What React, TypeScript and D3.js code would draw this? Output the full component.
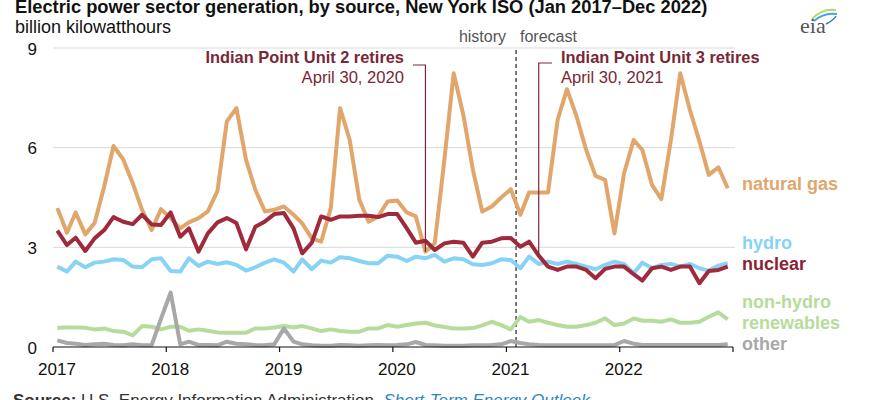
import React from 'react';
import * as d3 from 'd3';

// monthly generation, billion kWh, Jan 2017 - Dec 2022
const naturalGas = [
  4.18, 3.44, 4.05, 3.39, 3.73, 4.83, 6.05, 5.65, 4.93, 4.13, 3.52, 4.15,
  3.88, 3.57, 3.75, 3.88, 4.08, 4.70, 6.79, 7.19, 5.63, 4.73, 4.08, 4.13,
  4.23, 3.98, 3.72, 3.27, 3.17, 4.18, 7.19, 6.23, 4.43, 3.77, 3.93, 4.38,
  4.41, 4.05, 3.93, 2.87, 3.12, 5.63, 8.24, 6.99, 5.33, 4.08, 4.23, 4.50,
  4.75, 3.98, 4.65, 4.65, 4.65, 6.84, 7.76, 6.94, 5.93, 5.15, 5.03, 3.42,
  5.23, 6.23, 5.93, 4.88, 4.45, 6.23, 8.24, 7.14, 6.18, 5.18, 5.41, 4.78,
];
const nuclear = [
  3.50, 3.07, 3.29, 2.89, 3.27, 3.52, 3.91, 3.77, 3.70, 3.98, 3.69, 3.67,
  4.05, 3.32, 3.57, 2.87, 3.42, 3.75, 3.88, 3.73, 2.94, 3.62, 3.78, 4.00,
  4.03, 3.57, 2.82, 3.14, 3.93, 3.83, 3.93, 3.93, 3.95, 3.95, 3.91, 4.00,
  4.00, 3.57, 3.14, 3.20, 2.92, 3.12, 3.17, 3.14, 2.72, 3.14, 3.17, 3.27,
  3.28, 3.02, 3.17, 2.75, 2.42, 2.32, 2.42, 2.42, 2.32, 2.07, 2.35, 2.42,
  2.42, 2.19, 2.00, 2.37, 2.42, 2.32, 2.42, 2.42, 1.92, 2.29, 2.32, 2.42,
];
const hydro = [
  2.42, 2.27, 2.57, 2.40, 2.54, 2.57, 2.64, 2.62, 2.42, 2.40, 2.64, 2.67,
  2.29, 2.27, 2.67, 2.44, 2.57, 2.50, 2.55, 2.47, 2.30, 2.40, 2.54, 2.64,
  2.54, 2.27, 2.64, 2.34, 2.60, 2.54, 2.70, 2.67, 2.59, 2.52, 2.52, 2.75,
  2.72, 2.59, 2.72, 2.67, 2.77, 2.57, 2.67, 2.64, 2.49, 2.47, 2.52, 2.64,
  2.62, 2.37, 2.72, 2.50, 2.57, 2.50, 2.57, 2.50, 2.42, 2.34, 2.47, 2.57,
  2.50, 2.22, 2.54, 2.37, 2.47, 2.50, 2.42, 2.50, 2.37, 2.30, 2.45, 2.52,
];
const renewables = [
  0.58, 0.59, 0.59, 0.58, 0.53, 0.56, 0.48, 0.46, 0.35, 0.63, 0.61, 0.53,
  0.61, 0.61, 0.49, 0.53, 0.49, 0.44, 0.43, 0.43, 0.43, 0.56, 0.56, 0.59,
  0.63, 0.59, 0.63, 0.56, 0.48, 0.53, 0.48, 0.46, 0.46, 0.56, 0.56, 0.66,
  0.61, 0.66, 0.71, 0.73, 0.65, 0.60, 0.56, 0.56, 0.57, 0.65, 0.76, 0.66,
  0.53, 0.90, 0.76, 0.81, 0.73, 0.66, 0.61, 0.61, 0.66, 0.73, 0.86, 0.66,
  0.71, 0.86, 0.79, 0.79, 0.76, 0.83, 0.73, 0.73, 0.76, 0.91, 1.04, 0.83,
];
const other = [
  0.20, 0.12, 0.10, 0.06, 0.08, 0.10, 0.06, 0.05, 0.08, 0.05, 0.06, 0.85,
  1.64, 0.08, 0.16, 0.06, 0.06, 0.05, 0.16, 0.10, 0.08, 0.06, 0.05, 0.08,
  0.56, 0.16, 0.08, 0.05, 0.04, 0.04, 0.06, 0.05, 0.04, 0.05, 0.06, 0.05,
  0.06, 0.08, 0.15, 0.06, 0.05, 0.04, 0.04, 0.04, 0.05, 0.05, 0.06, 0.08,
  0.18, 0.12, 0.08, 0.06, 0.05, 0.05, 0.05, 0.05, 0.05, 0.05, 0.05, 0.06,
  0.18, 0.10, 0.06, 0.06, 0.06, 0.06, 0.06, 0.06, 0.06, 0.06, 0.06, 0.08,
];

const yTicks = [0, 3, 6, 9];
const yearTicks = [2017, 2018, 2019, 2020, 2021, 2022];

const months = d3.range(72).map(i => new Date(2017, i, 15));

const series = [
  { key: 'renewables', values: renewables, color: '#B5DC9B' },
  { key: 'other', values: other, color: '#A8A8A8' },
  { key: 'hydro', values: hydro, color: '#86D3F5' },
  { key: 'natural gas', values: naturalGas, color: '#E1A66B' },
  { key: 'nuclear', values: nuclear, color: '#9E2A3B' },
];

const labels = [
  { text: 'natural gas', y: 190, color: '#E1A66B' },
  { text: 'hydro', y: 249, color: '#86D3F5' },
  { text: 'nuclear', y: 270, color: '#8C2234' },
  { text: 'non-hydro', y: 308, color: '#B5DC9B' },
  { text: 'renewables', y: 329, color: '#B5DC9B' },
  { text: 'other', y: 350, color: '#A8A8A8' },
];

const W = 870;
const H = 400;
const font = '"Liberation Sans", Arial, sans-serif';
const maroon = '#7A2637';

const App: React.FC = () => {
  const x = d3.scaleTime()
    .domain([new Date(2017, 0, 1), new Date(2023, 0, 1)])
    .range([53, 733]);
  const y = d3.scaleLinear().domain([0, 9]).range([347, 48]);

  const line = d3.line<number>()
    .x((_, i) => x(months[i]))
    .y(d => y(d));

  const unit2 = x(new Date(2020, 3, 15));
  const unit3 = x(new Date(2021, 3, 15));
  const forecast = x(new Date(2021, 1, 1));

  return (
    <svg width={W} height={H} style={{ position: 'absolute', left: 0, top: 0, fontFamily: font }}>
      <text x={15} y={12.5} fontSize={18.3} fontWeight="bold" fill="#111">
        Electric power sector generation, by source, New York ISO (Jan 2017–Dec 2022)
      </text>
      <text x={15} y={33} fontSize={18} fill="#111">billion kilowatthours</text>

      {/* eia logo */}
      <g>
        <path d="M812,19 Q822,8 836,10" fill="none" stroke="#B5D86A" strokeWidth={2} />
        <path d="M814,21 Q824,12 837,14" fill="none" stroke="#3FA9D8" strokeWidth={2} />
        <path d="M826,24 Q834,20 836,16" fill="none" stroke="#2F7FB5" strokeWidth={1.5} />
        <text x={800} y={33} fontSize={22} fill="#555" fontFamily='"Liberation Serif", "DejaVu Serif", serif'>eia</text>
      </g>

      {yTicks.filter(t => t > 0).map(t => (
        <line key={t} x1={53} x2={735} y1={y(t)} y2={y(t)} stroke="#D9D9D9" strokeWidth={1} />
      ))}
      {yTicks.map(t => (
        <text key={t} x={37} y={y(t) + 1} fontSize={17} textAnchor="end" dominantBaseline="central" fill="#111">{t}</text>
      ))}

      <text x={506} y={42} fontSize={16} textAnchor="end" fill="#555">history</text>
      <text x={520} y={42} fontSize={16} fill="#555">forecast</text>
      <line x1={forecast} x2={forecast} y1={50} y2={347} stroke="#333" strokeWidth={1.3} strokeDasharray="4,3" />

      {series.map(s => (
        <path key={s.key} d={line(s.values) || ''} fill="none" stroke={s.color} strokeWidth={4} strokeLinejoin="round" />
      ))}

      {/* axis */}
      <line x1={53} x2={733} y1={347} y2={347} stroke="#111" strokeWidth={1.2} />
      {[...yearTicks, 2023].map(yr => (
        <line key={yr} x1={x(new Date(yr, 0, 1))} x2={x(new Date(yr, 0, 1))} y1={347} y2={352} stroke="#111" strokeWidth={1.2} />
      ))}
      {yearTicks.map(yr => (
        <text key={yr} x={x(new Date(yr, 0, 1)) + 4} y={375} fontSize={17} textAnchor="middle" fill="#111">{yr}</text>
      ))}

      {/* annotations */}
      <path d={`M413,65 H${unit2} V252`} fill="none" stroke={maroon} strokeWidth={1.2} />
      <text x={404} y={63} fontSize={16.4} fontWeight="bold" textAnchor="end" fill={maroon}>Indian Point Unit 2 retires</text>
      <text x={404} y={83} fontSize={16.6} textAnchor="end" fill={maroon}>April 30, 2020</text>
      <path d={`M552,63 H${unit3} V255`} fill="none" stroke={maroon} strokeWidth={1.2} />
      <text x={561} y={63} fontSize={16.4} fontWeight="bold" fill={maroon}>Indian Point Unit 3 retires</text>
      <text x={561} y={83} fontSize={16.6} fill={maroon}>April 30, 2021</text>

      {labels.map(l => (
        <text key={l.text} x={742} y={l.y} fontSize={18} fontWeight="bold" fill={l.color}>{l.text}</text>
      ))}

      <text x={13} y={406} fontSize={17} fill="#333">
        <tspan fontWeight="bold">Source:</tspan>
        <tspan> U.S. Energy Information Administration, </tspan>
        <tspan fontStyle="italic" fill="#2E86C1">Short-Term Energy Outlook</tspan>
      </text>
    </svg>
  );
};

export default App;
